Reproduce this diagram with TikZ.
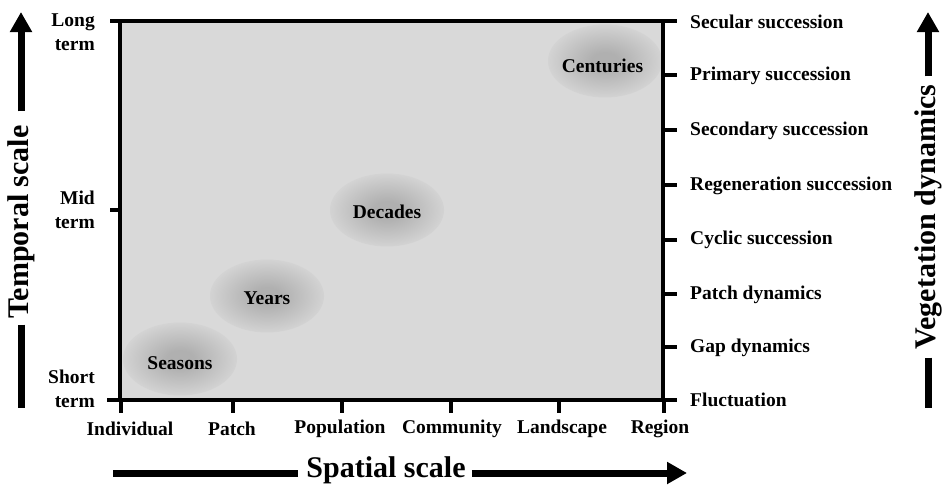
\documentclass[tikz,border=0pt]{standalone}
\usepackage{fontspec}
\setmainfont{Liberation Serif}
\usetikzlibrary{arrows.meta,shapes.geometric}
\definecolor{bgc}{RGB}{217,217,217}
\definecolor{blobc}{RGB}{176,176,176}
\definecolor{blobm}{RGB}{198,198,198}
\definecolor{blobe}{RGB}{211,211,211}
\pgfdeclareradialshading{blobsh}{\pgfpointorigin}{color(0bp)=(blobc); color(6bp)=(blobc); color(18bp)=(blobm); color(25bp)=(blobe); color(50bp)=(bgc)}
\begin{document}
\begin{tikzpicture}[x=1pt,y=-1pt,
  axisline/.style={line width=4pt},
  tickline/.style={line width=4pt},
  lab/.style={font=\bfseries\fontsize{19.5}{24}\selectfont, inner sep=0pt},
  biglab/.style={font=\bfseries\fontsize{30}{34}\selectfont, inner sep=0pt},
  blob/.style={ellipse, minimum width=114pt, minimum height=73pt, inner sep=0pt,
    shading=blobsh,
    font=\bfseries\fontsize{19.5}{24}\selectfont},
  bigarrow/.style={line width=7pt, -{Triangle[width=21pt,length=20pt]}},
  bigbar/.style={line width=7pt}
]
\useasboundingbox (0,0) rectangle (943,493);
% plot area
\fill[bgc] (120,21) rectangle (663,400);
% blobs
\node[blob] (seasons) at (180,359) {\raisebox{-10pt}[0pt][0pt]{Seasons}};
\node[blob] (years) at (267,296) {\raisebox{-8.5pt}[0pt][0pt]{Years}};
\node[blob] (decades) at (387,210) {\raisebox{-8.5pt}[0pt][0pt]{Decades}};
\node[blob] (centuries) at (605,61) {\raisebox{-11pt}[0pt][0pt]{\hspace*{-5pt}Centuries}};
% axes
\draw[axisline] (110,21) -- (677,21);
\draw[axisline] (107,400) -- (677,400);
\draw[axisline] (120,19) -- (120,402);
\draw[axisline] (663,19) -- (663,402);
% left mid tick
\draw[tickline] (110,210) -- (120,210);
% right ticks
\foreach \yy in {75,130,185,240,294,347} \draw[tickline] (663,\yy) -- (677,\yy);
% bottom ticks
\foreach \xx in {233,342,451,559} \draw[tickline] (\xx,400) -- (\xx,413);
\draw[tickline] (121,400) -- (121,413);
\draw[tickline] (664,400) -- (664,413);
% left labels
\node[lab, align=right, anchor=east] (lt) at (95,32) {Long\\term};
\node[lab, align=right, anchor=east] (mt) at (95,210) {Mid\\term};
\node[lab, align=right, anchor=east] (st) at (95,389) {Short\\term};
% right labels
\node[lab, anchor=west] (r1) at (690,22) {Secular succession};
\node[lab, anchor=west] (r2) at (690,76) {Primary succession};
\node[lab, anchor=west] (r3) at (690,131) {Secondary succession};
\node[lab, anchor=west] (r4) at (690,186) {Regeneration succession};
\node[lab, anchor=west] (r5) at (690,240) {Cyclic succession};
\node[lab, anchor=west] (r6) at (690,295) {Patch dynamics};
\node[lab, anchor=west] (r7) at (690,348) {Gap dynamics};
\node[lab, anchor=west] (r8) at (690,400) {Fluctuation};
% bottom labels
\node[lab] (b1) at (130,429) {Individual};
\node[lab] (b2) at (232,429) {Patch};
\node[lab] (b3) at (340,429) {Population};
\node[lab] (b4) at (452,429) {Community};
\node[lab] (b5) at (562,429) {Landscape};
\node[lab] (b6) at (660,429) {Region};
% big axis titles with arrows
\node[biglab, rotate=90] (temporal) at (21,222) {Temporal scale};
\coordinate (ttop) at (21,12);
\coordinate (tbot) at (21,408);
\draw[bigarrow, shorten <=14pt] (temporal.east) -- (ttop);
\draw[bigbar, shorten <=6pt] (temporal.west) -- (tbot);

\node[biglab, rotate=90] (veg) at (928,217) {Vegetation dynamics};
\coordinate (vtop) at (928,12);
\coordinate (vbot) at (928,408);
\draw[bigarrow, shorten <=8pt] (veg.east) -- (vtop);
\draw[bigbar, shorten <=8pt] (veg.west) -- (vbot);

\node[biglab] (spatial) at (386,470) {Spatial scale};
\coordinate (sleft) at (113,473);
\coordinate (sright) at (687,473);
\draw[bigarrow, shorten <=6pt] (spatial.east |- sright) -- (sright);
\draw[bigbar, shorten <=8pt] (spatial.west |- sleft) -- (sleft);
\end{tikzpicture}
\end{document}
